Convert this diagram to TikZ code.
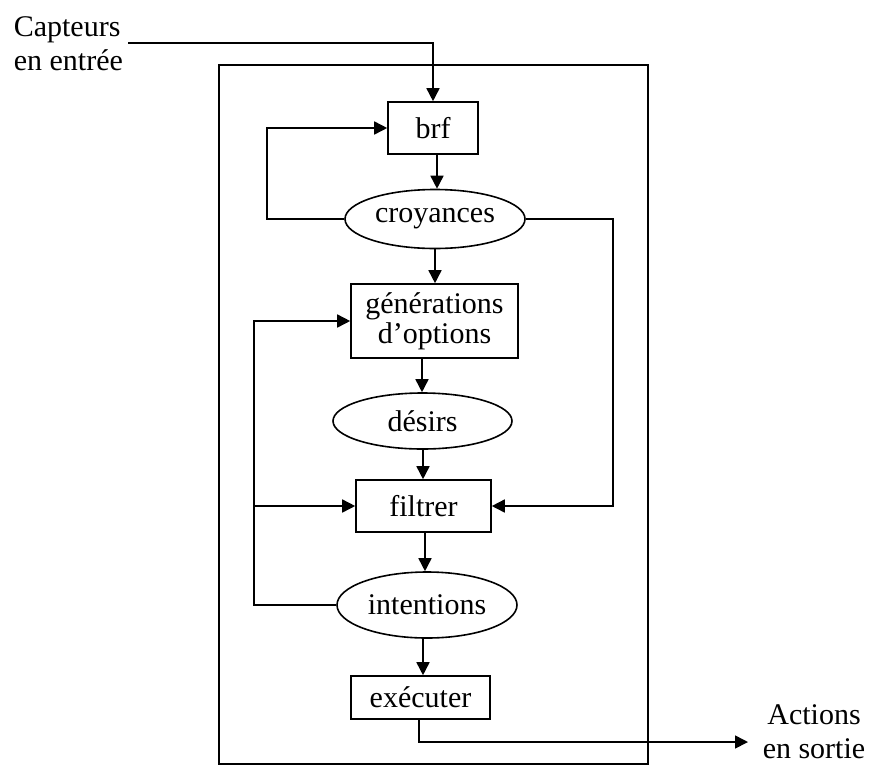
\documentclass[tikz,border=0pt]{standalone}
\usepackage{fontspec}
\setmainfont{Liberation Serif}
\usetikzlibrary{arrows.meta,shapes.geometric}
\begin{document}
\begin{tikzpicture}[x=1pt,y=-1pt,
  line width=1.6pt,
  every node/.style={font=\fontsize{30}{34}\selectfont},
  arr/.style={-{Triangle[length=13pt,width=13pt]}},
  boxnode/.style={draw,rectangle,inner sep=0pt,align=center},
  ovalnode/.style={draw,ellipse,inner sep=0pt},
  plain/.style={inner sep=0pt}]
\useasboundingbox (0,0) rectangle (869,766);
% outer frame
\draw[line width=2pt] (219,65) rectangle (648,764);
% nodes
\node[boxnode,minimum width=90pt,minimum height=52pt] (brf) at (433,128) {brf};
\node[ovalnode,minimum width=180pt,minimum height=59pt] (croy) at (435,219) {croyances};
\node[boxnode,minimum width=167pt,minimum height=74pt] (gen) at (434.5,321) {générations\\[-4pt]d’options};
\node[ovalnode,minimum width=179pt,minimum height=56pt] (des) at (422.5,421) {désirs};
\node[boxnode,minimum width=135pt,minimum height=52pt] (filt) at (423.5,506) {filtrer};
\node[ovalnode,minimum width=180pt,minimum height=66pt] (int) at (427,605) {intentions};
\node[boxnode,minimum width=139pt,minimum height=43pt] (exe) at (420.5,697.5) {exécuter};
\node[plain,anchor=west,align=left] (cap) at (13,44) {Capteurs\\en entrée};
\node[plain,align=center] (act) at (814,732) {Actions\\en sortie};
% helper coordinates
\coordinate (in) at (128,43);
\coordinate (rt) at (613,219);
\coordinate (lb) at (254,605);
\coordinate (out) at (748,742);
% connectors
\draw[arr] (in) -| (brf.north);
\draw[arr] (brf.south -| 437,0) -- (437,0 |- croy.north);
\draw[arr] (croy.west) -- ++(-77,0) |- (brf.west);
\draw[arr] (croy.east) -- (rt) |- (filt.east);
\draw[arr] (croy.south) -- (croy.south |- gen.north);
\draw[arr] (gen.south -| 422,0) -- (422,0 |- des.north);
\draw[arr] (des.south -| 423,0) -- (423,0 |- filt.north);
\draw[arr] (filt.south -| 425,0) -- (425,0 |- int.north);
\draw[arr] (int.west) -- (lb) |- (gen.west);
\draw[arr] (lb |- filt.west) -- (filt.west);
\draw[arr] (int.south -| 423,0) -- (423,0 |- exe.north);
\draw[arr] (exe.south -| 419,0) |- (out);
\end{tikzpicture}
\end{document}
